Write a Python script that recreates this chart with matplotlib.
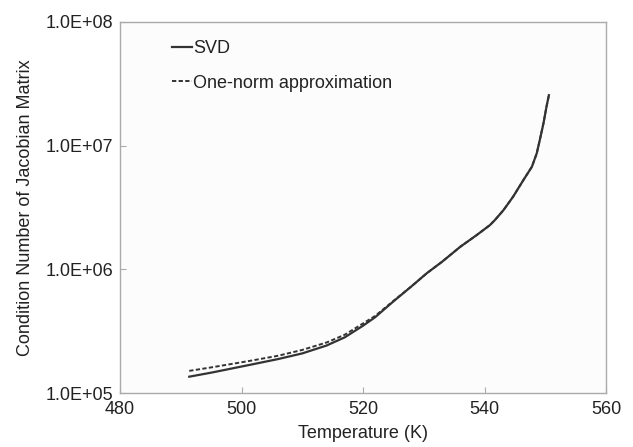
import matplotlib
matplotlib.use("Agg")
import matplotlib.pyplot as plt
from matplotlib.ticker import FixedLocator, FuncFormatter, NullLocator

plt.rcParams['font.family'] = ['Liberation Sans', 'DejaVu Sans']

temp_svd = [491.4, 495, 501.4, 506, 510, 514, 517, 520, 522, 525, 528, 530.5, 533,
            536, 538.7, 540.9, 541.7, 543.1, 544.7, 546.4, 547.8, 548.6, 549.1, 549.7, 550.2, 550.6]
cond_svd = [1.355e5, 1.46e5, 1.69e5, 1.88e5, 2.09e5, 2.42e5, 2.82e5, 3.5e5, 4.1e5, 5.5e5, 7.3e5, 9.3e5, 1.15e6,
            1.52e6, 1.89e6, 2.28e6, 2.5e6, 3.0e6, 3.86e6, 5.27e6, 6.75e6, 8.67e6, 1.11e7, 1.51e7, 2.06e7, 2.56e7]

temp_one = [491.4, 495, 501.4, 506, 510, 514, 517, 520, 522, 525, 528, 530.5, 533,
            536, 538.7, 540.9, 541.7, 543.1, 544.7, 546.4, 547.8, 548.6, 549.1, 549.7, 550.2, 550.6]
cond_one = [1.51e5, 1.61e5, 1.82e5, 2.0e5, 2.23e5, 2.56e5, 2.96e5, 3.65e5, 4.2e5, 5.55e5, 7.3e5, 9.3e5, 1.15e6,
            1.52e6, 1.89e6, 2.28e6, 2.5e6, 3.0e6, 3.86e6, 5.27e6, 6.75e6, 8.67e6, 1.11e7, 1.51e7, 2.06e7, 2.56e7]

y_ticks = [1e5, 1e6, 1e7, 1e8]
y_tick_labels = ['1.0E+05', '1.0E+06', '1.0E+07', '1.0E+08']
x_ticks = [480, 500, 520, 540, 560]

fig = plt.figure(figsize=(6.33, 4.47), dpi=100)
ax = fig.add_axes([120/633, 1-393/447, 486/633, 371/447])
ax.set_facecolor('#fcfcfc')

ax.plot(temp_svd, cond_svd, color='#333333', lw=1.6, label='SVD')
ax.plot(temp_one, cond_one, color='#333333', lw=1.4, ls=(0, (2.2, 1.2)), label='One-norm approximation')

ax.set_yscale('log')
ax.set_xlim(480, 560)
ax.set_ylim(1e5, 1e8)
ax.yaxis.set_major_locator(FixedLocator(y_ticks))
ax.yaxis.set_major_formatter(FuncFormatter(lambda v, p: y_tick_labels[y_ticks.index(v)] if v in y_ticks else ''))
ax.yaxis.set_minor_locator(NullLocator())
ax.set_xticks(x_ticks)

for s in ax.spines.values():
    s.set_color('#aaaaaa')
    s.set_linewidth(1.0)
ax.tick_params(axis='both', direction='in', length=4, color='#aaaaaa', labelsize=13, labelcolor='#222222')
ax.tick_params(axis='x', pad=6)
ax.tick_params(axis='y', pad=5)

ax.set_xlabel('Temperature (K)', fontsize=13, color='#222222', labelpad=5)
ax.set_ylabel('Condition Number of Jacobian Matrix', fontsize=13, color='#222222', labelpad=8)

leg = ax.legend(loc='upper left', bbox_to_anchor=(0.073, 0.994), frameon=False, fontsize=13,
                handlelength=1.1, handletextpad=0.1, labelspacing=0.95, labelcolor='#222222')

fig.savefig('out.png', dpi=100, facecolor='white')
